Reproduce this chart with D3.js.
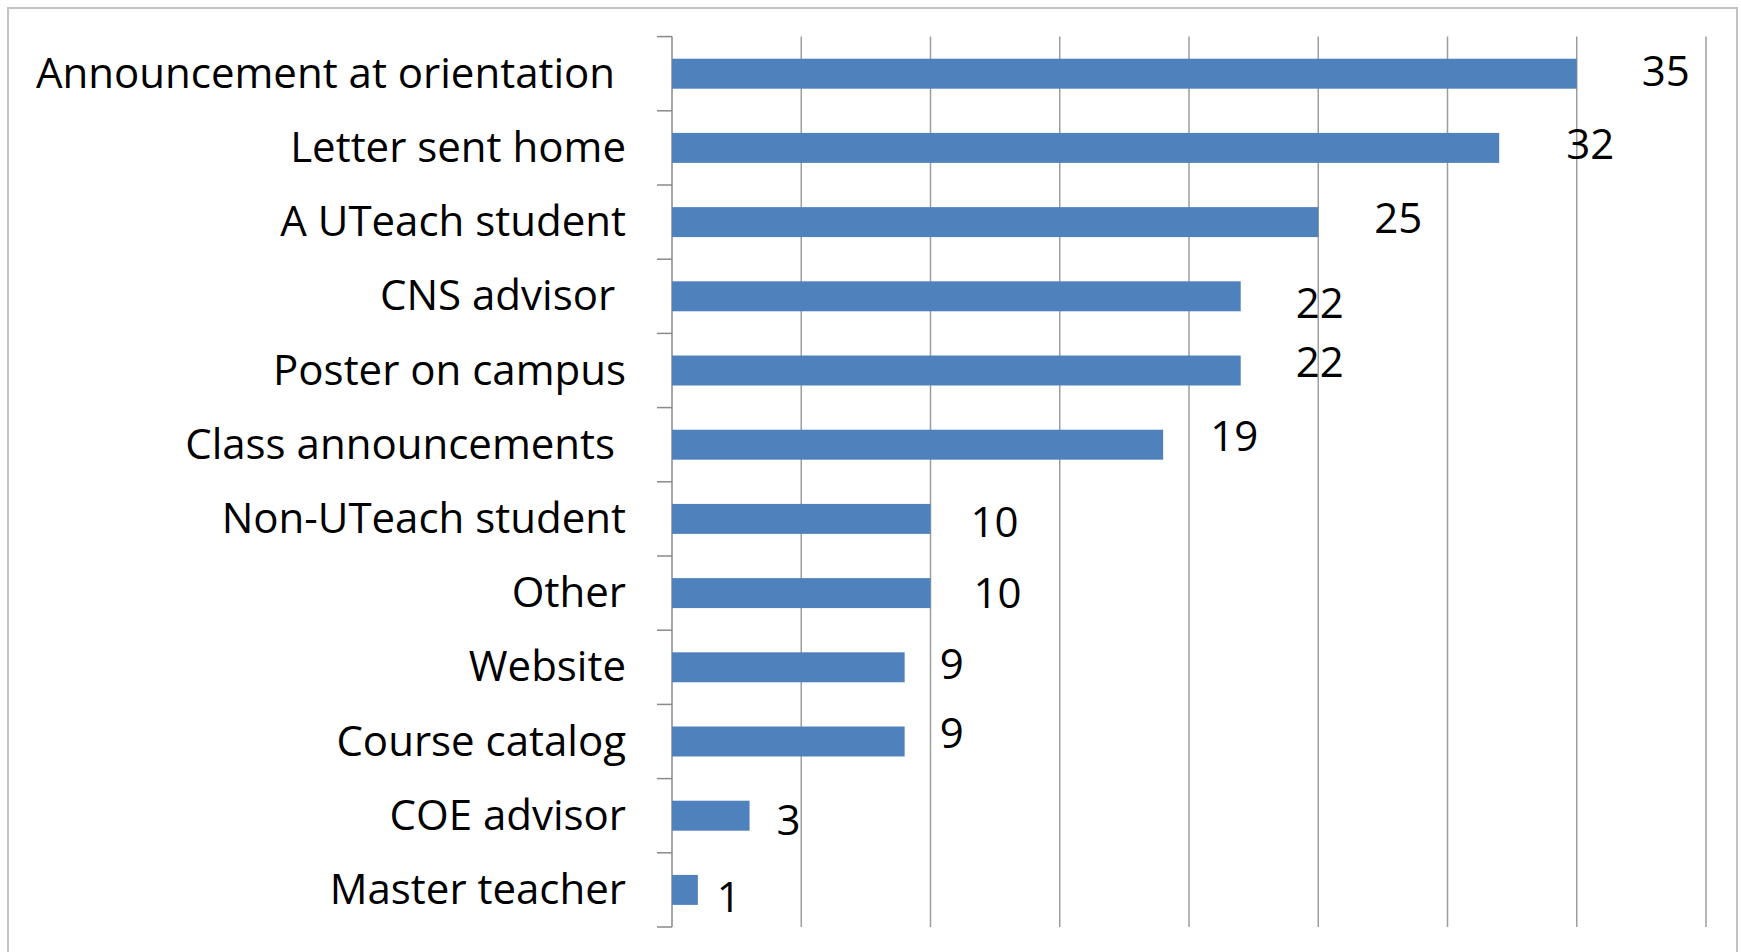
<!DOCTYPE html>
<html>
<head>
<meta charset="utf-8">
<script src="https://cdn.jsdelivr.net/npm/d3@7"></script>
<style>
  body { margin: 0; background: #fff; }
  text { font-family: "Open Sans", "Noto Sans", sans-serif; fill: #000; }
</style>
</head>
<body>
<div class="canvas"></div>
<script>
var categories = [
  "Announcement at orientation ",
  "Letter sent home",
  "A UTeach student",
  "CNS advisor ",
  "Poster on campus",
  "Class announcements ",
  "Non-UTeach student",
  "Other",
  "Website",
  "Course catalog",
  "COE advisor",
  "Master teacher"
];
var values = [35, 32, 25, 22, 22, 19, 10, 10, 9, 9, 3, 1];
var gridTicks = [5, 10, 15, 20, 25, 30, 35, 40];

// hand-placed data labels in the original: offset from bar end / band centre
var labelNudge = [
  [89, -2], [91, -4], [80, -4], [79, 7], [79, -8.5], [71, -8],
  [64, 3], [67, 0], [47, -3.5], [47, -8.5], [39, 4.5], [31, 7]
];

var width = 1741, height = 952;
var plot = {left: 672, right: 1706, top: 36.6, bottom: 927};

var svg = d3.select(".canvas").append("svg")
    .attr("width", width)
    .attr("height", height);

svg.append("rect")
    .attr("x", 8)
    .attr("y", 8)
    .attr("width", 1729)
    .attr("height", 970)
    .attr("fill", "#fff")
    .attr("stroke", "#c3c3c3")
    .attr("stroke-width", 2);

var x = d3.scaleLinear()
    .domain([0, 40])
    .range([plot.left, plot.right]);

var y = d3.scaleBand()
    .domain(categories)
    .range([plot.top, plot.bottom])
    .paddingInner(0.596)
    .paddingOuter(0.298);

// vertical gridlines
svg.selectAll(".grid").data(gridTicks)
  .enter().append("line")
    .attr("class", "grid")
    .attr("x1", function(d) { return x(d); })
    .attr("x2", function(d) { return x(d); })
    .attr("y1", plot.top)
    .attr("y2", plot.bottom)
    .style("stroke", "#9d9d9d")
    .style("stroke-width", 1.5);

// category axis, ticks sit between the bands
var bounds = categories.map(function(c) { return y(c) - y.step() * y.paddingInner() / 2; });
bounds.push(plot.bottom);

svg.append("line")
    .attr("x1", plot.left)
    .attr("x2", plot.left)
    .attr("y1", plot.top)
    .attr("y2", plot.bottom)
    .style("stroke", "#8a8a8a")
    .style("stroke-width", 1.5);

svg.selectAll(".tick-mark").data(bounds)
  .enter().append("line")
    .attr("class", "tick-mark")
    .attr("x1", plot.left - 15)
    .attr("x2", plot.left)
    .attr("y1", function(d) { return d; })
    .attr("y2", function(d) { return d; })
    .style("stroke", "#8a8a8a")
    .style("stroke-width", 1.5);

// bars
svg.selectAll(".bar").data(values)
  .enter().append("rect")
    .attr("class", "bar")
    .attr("x", x(0))
    .attr("y", function(d, i) { return y(categories[i]); })
    .attr("width", function(d) { return x(d) - x(0); })
    .attr("height", y.bandwidth())
    .attr("fill", "#4f81bd");

// category labels
svg.selectAll(".cat").data(categories)
  .enter().append("text")
    .attr("class", "cat")
    .attr("x", plot.left - 46)
    .attr("y", function(d) { return y(d) + y.bandwidth() / 2 + 14; })
    .attr("text-anchor", "end")
    .style("white-space", "pre")
    .style("font-size", "42px")
    .text(function(d) { return d; });

// value labels
svg.selectAll(".val").data(values)
  .enter().append("text")
    .attr("class", "val")
    .attr("x", function(d, i) { return x(d) + labelNudge[i][0]; })
    .attr("y", function(d, i) { return y(categories[i]) + y.bandwidth() / 2 + 14.7 + labelNudge[i][1]; })
    .attr("text-anchor", "middle")
    .style("font-size", "42px")
    .text(function(d) { return d; });
</script>
</body>
</html>
